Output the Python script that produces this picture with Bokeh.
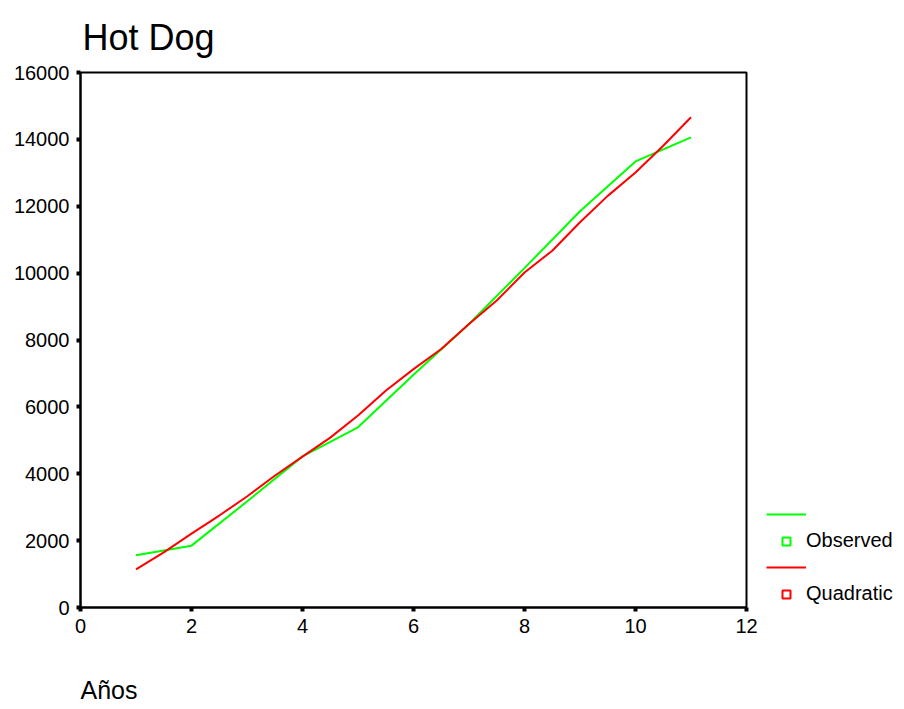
from bokeh.plotting import figure
from bokeh.models import Legend, LegendItem, Title, FixedTicker, Range1d, ColumnDataSource
from bokeh.embed import file_html
from bokeh.resources import INLINE

# Observed data (years 1..11)
years = [1, 2, 3, 4, 5, 6, 7, 8, 9, 10, 11]
observed = [1560, 1850, 3170, 4520, 5390, 6960, 8480, 10150, 11850, 13340, 14060]

# Quadratic fit curve
quad_x = [1, 1.5, 2, 2.5, 3, 3.5, 4, 4.5, 5, 5.5, 6, 6.5, 7, 7.5, 8, 8.5, 9, 9.5, 10, 10.5, 11]
quad_y = [1140, 1650, 2210, 2750, 3320, 3940, 4510, 5080, 5740, 6480, 7130, 7730, 8480, 9180,
          10020, 10670, 11520, 12310, 13010, 13810, 14660]

x_ticks = [0, 2, 4, 6, 8, 10, 12]
y_ticks = [0, 2000, 4000, 6000, 8000, 10000, 12000, 14000, 16000]

FONT = "Liberation Sans"

p = figure(frame_width=666, frame_height=535,
           min_border_left=80, min_border_right=150, min_border_top=72, min_border_bottom=100,
           x_range=Range1d(0, 12), y_range=Range1d(0, 16000),
           output_backend="svg", toolbar_location=None)

p.title.text = "Hot Dog"
p.title.text_font = FONT
p.title.text_font_size = "36px"
p.title.text_font_style = "normal"
p.title.text_color = "black"
p.title.offset = 2
p.title.standoff = 29
p.title.text_line_height = 0.9

p.grid.visible = False
p.outline_line_color = "black"
p.outline_line_width = 2
p.outline_line_alpha = 1.0

for ax in (p.xaxis[0], p.yaxis[0]):
    ax.axis_line_color = "black"
    ax.axis_line_width = 2
    ax.major_tick_line_color = "black"
    ax.major_tick_line_width = 4
    ax.major_tick_in = 0
    ax.major_tick_out = 4
    ax.minor_tick_line_color = None
    ax.major_label_text_font = FONT
    ax.major_label_text_font_size = "20px"
    ax.major_label_text_color = "black"
    ax.major_label_standoff = 7

p.xaxis[0].ticker = FixedTicker(ticks=x_ticks)
p.yaxis[0].ticker = FixedTicker(ticks=y_ticks)

obs_r = p.line(years, observed, line_color="#00ff00", line_width=2)
quad_r = p.line(quad_x, quad_y, line_color="#ff0000", line_width=2)

# legend-only marker renderers (NaN point: nothing drawn in the frame)
proxy = ColumnDataSource(data=dict(x=[float("nan")], y=[float("nan")]))
obs_m = p.scatter("x", "y", source=proxy, marker="square", size=8,
                  fill_color=None, line_color="#00ff00", line_width=2)
quad_m = p.scatter("x", "y", source=proxy, marker="square", size=8,
                   fill_color=None, line_color="#ff0000", line_width=2)

legend = Legend(items=[LegendItem(label=" ", renderers=[obs_r]),
                       LegendItem(label="Observed", renderers=[obs_m]),
                       LegendItem(label=" ", renderers=[quad_r]),
                       LegendItem(label="Quadratic", renderers=[quad_m])],
                location=(20, 2))
legend.padding = 0
legend.margin = 0
legend.spacing = 5
legend.glyph_height = 20
legend.glyph_width = 40
legend.label_standoff = 0
legend.label_height = 20
legend.border_line_alpha = 0
legend.background_fill_alpha = 0
legend.label_text_font = FONT
legend.label_text_font_size = "20px"
legend.label_text_color = "black"
p.add_layout(legend, "right")

xlab = Title(text="Años", align="left", text_font=FONT, text_font_size="25px",
             text_font_style="normal", text_color="black", standoff=76)
p.add_layout(xlab, "below")

open("out.html", "w").write(file_html(p, INLINE))
